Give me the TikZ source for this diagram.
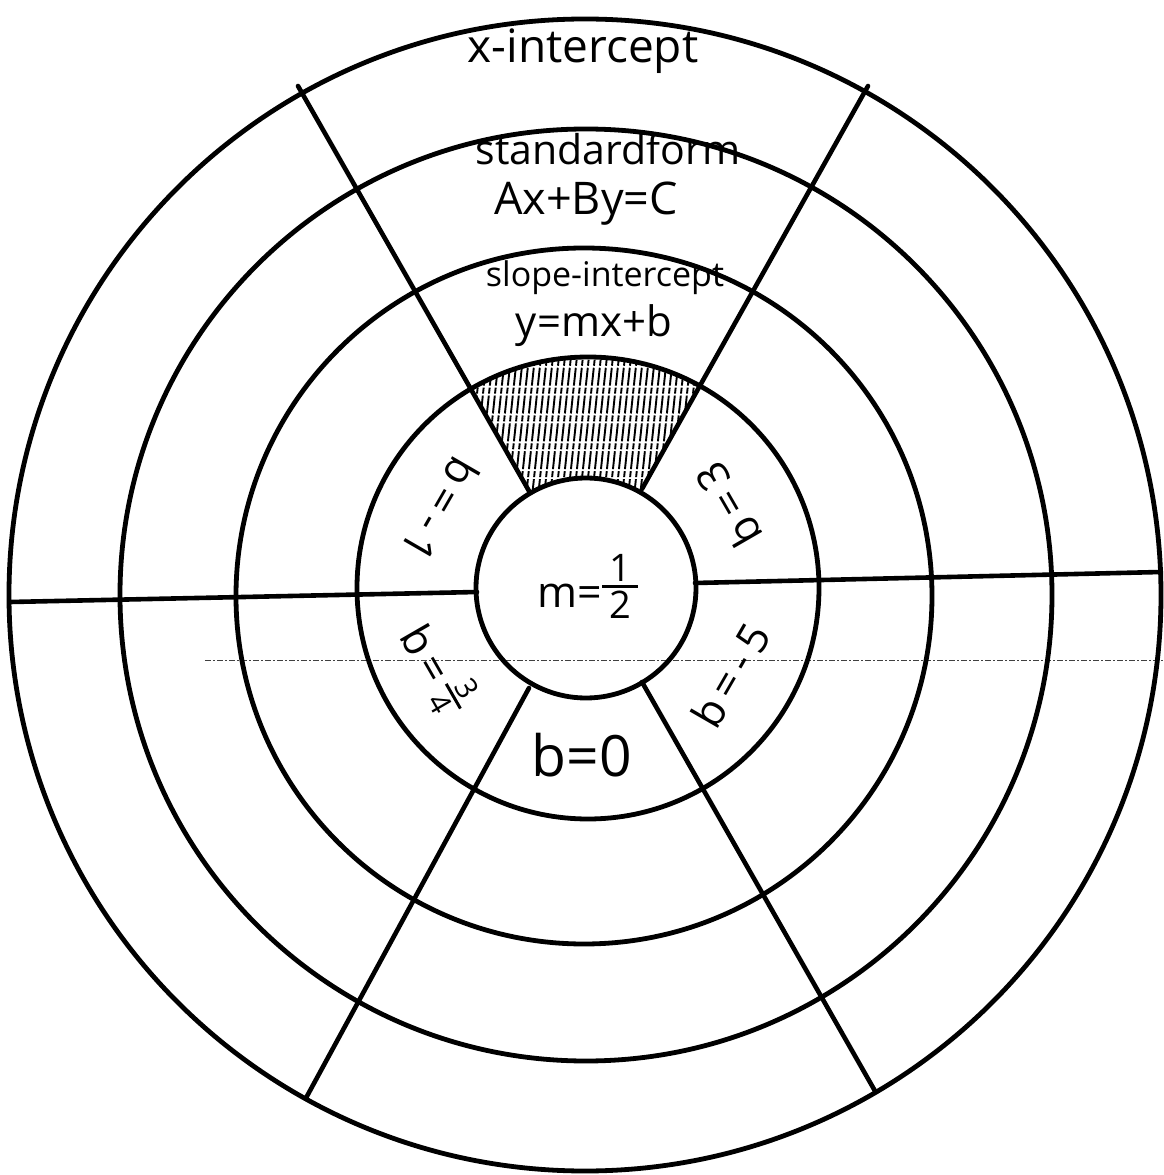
\documentclass[tikz,border=0pt]{standalone}
\usepackage{fontspec}
\setmainfont{Open Sans}
\newcommand\hfrac[2]{\raisebox{-0.27em}{\shortstack{#1\\[0pt]\rule{0.95em}{3pt}\\[0pt]#2}}}
\begin{document}
\begin{tikzpicture}[x=1pt,y=1pt,
  ring/.style={line width=4.8pt},
  spoke/.style={line width=4.6pt, line cap=round},
  hatch/.style={line width=1.9pt, dash pattern=on 18pt off 2pt on 6pt off 2pt},
  scan/.style={line width=1pt, black!75, dash pattern=on 6pt off 2pt on 2pt off 2pt},
  lbl/.style={inner sep=0pt, anchor=base},
  blbl/.style={inner sep=0pt, font=\fontsize{43}{46}\selectfont}]
\useasboundingbox (-586,-583) rectangle (577,592);
\fill[white] (-586,-583) rectangle (577,592);

% named spoke end points
\coordinate (ulI) at (-57,101);  \coordinate (ulO) at (-288,506);
\coordinate (urI) at (56,103);   \coordinate (urO) at (282,506);
\coordinate (rI)  at (109,9);    \coordinate (rO)  at (575,20);
\coordinate (lI)  at (-109,0);   \coordinate (lO)  at (-576,-10);
\coordinate (llI) at (-57,-96);  \coordinate (llO) at (-280,-506);
\coordinate (lrI) at (56,-90);   \coordinate (lrO) at (289,-499);

% hatched sector
\begin{scope}
  \clip (urI) -- (urO) -- (ulO) -- (ulI) -- cycle;
  \clip (2,4) circle[radius=231pt];
  \foreach \x in {-150,-144,...,150}
    \draw[hatch] (\x,95) -- (\x+16,245);
\end{scope}
\fill[white] (0,4) circle[radius=110pt];

% faint scan line
\draw[scan] (-381,-68) -- (577,-68);

% rings
\draw[ring] (0,4) circle[radius=110pt];
\draw[ring] (2,4) circle[radius=231pt];
\draw[ring] (-2,-4) circle[radius=348pt];
\draw[ring] (0,-3) circle[radius=466pt];
\draw[ring] (-1,-3) circle[radius=576pt];

% spokes
\draw[spoke] (ulI) -- (ulO);
\draw[spoke] (urI) -- (urO);
\draw[spoke] (rI) -- (rO);
\draw[spoke] (lI) -- (lO);
\draw[spoke] (llI) -- (llO);
\draw[spoke] (lrI) -- (lrO);

% top sector labels
\node[lbl, font=\fontsize{46}{50}\selectfont] (xint) at (-3,529) {x-intercept};
\node[lbl, font=\fontsize{41}{45}\selectfont] (std) at (22,427) {standardform};
\node[lbl, font=\fontsize{45}{49}\selectfont] (stdeq) at (0,377) {Ax+By=C};
\node[lbl, font=\fontsize{34}{38}\selectfont] (slope) at (19,305) {slope-intercept};
\node[lbl, font=\fontsize{42}{46}\selectfont] (slopeeq) at (8,255) {y=mx+b};

% centre
\node[lbl, font=\fontsize{43}{47}\selectfont] (m) at (2,-16) {m={\fontsize{38}{40}\selectfont\hfrac{1}{2}}};

% inner ring labels
\node[blbl, rotate=240] (b1) at (150.5:167pt) {b\,=\,-\,1};
\node[blbl, rotate=120] (b3) at (31.5:167pt) {b\,=\,3};
\node[blbl, rotate=300] (b34) at (207:167pt) {b\,=\,{\fontsize{30}{32}\selectfont\hfrac{3}{4}}};
\node[blbl, rotate=60] (b5) at (330:167pt) {b\,=\,-\,5};
\node[lbl, font=\fontsize{57}{60}\selectfont] (b0) at (-4,-184) {b=0};
\end{tikzpicture}
\end{document}
